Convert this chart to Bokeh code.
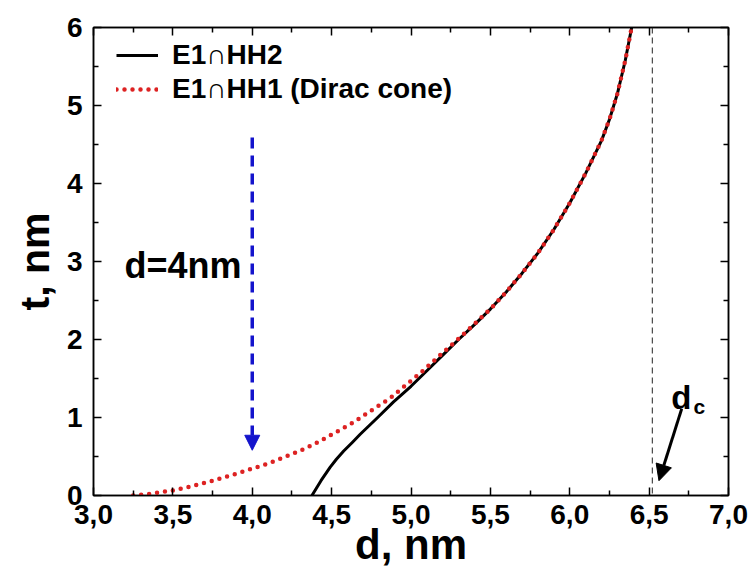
from bokeh.plotting import figure
from bokeh.models import (Legend, LegendItem, Span, Arrow, NormalHead, Label,
                          LinearAxis, FixedTicker, Range1d)
from bokeh.embed import file_html
from bokeh.resources import INLINE

# ---- data ----
d_hh2 = [4.376, 4.433, 4.49, 4.53, 4.576, 4.63, 4.68, 4.79, 4.89, 5.00, 5.10, 5.20, 5.30,
         5.40, 5.50, 5.60, 5.70, 5.80, 5.90, 6.00, 6.10, 6.20, 6.25, 6.30, 6.35, 6.39]
t_hh2 = [0.00, 0.19, 0.36, 0.465, 0.57, 0.68, 0.785, 1.00, 1.20, 1.40, 1.60, 1.80, 2.00,
         2.19, 2.39, 2.61, 2.85, 3.11, 3.41, 3.75, 4.13, 4.55, 4.82, 5.15, 5.58, 6.00]

d_dirac = [3.25, 3.35, 3.50, 3.60, 3.75, 3.90, 4.00, 4.10, 4.25, 4.33, 4.40, 4.50, 4.64,
           4.75, 4.87, 5.00, 5.07, 5.20, 5.30, 5.40, 5.50, 5.60, 5.70, 5.80, 5.90, 6.00,
           6.10, 6.20, 6.25, 6.30, 6.35, 6.39]
t_dirac = [0.00, 0.02, 0.065, 0.11, 0.19, 0.28, 0.345, 0.41, 0.53, 0.60, 0.67, 0.78, 0.94,
           1.09, 1.25, 1.47, 1.59, 1.83, 2.01, 2.20, 2.39, 2.61, 2.85, 3.11, 3.41, 3.75,
           4.13, 4.55, 4.82, 5.15, 5.58, 6.00]

series_labels = ["E1\u2229HH2", "E1\u2229HH1 (Dirac cone)"]
x_title = "d, nm"
y_title = "t, nm"

x_ticks = [3.0, 3.5, 4.0, 4.5, 5.0, 5.5, 6.0, 6.5, 7.0]
x_tick_labels = ["3,0", "3,5", "4,0", "4,5", "5,0", "5,5", "6,0", "6,5", "7,0"]
x_minor = [3.25, 3.75, 4.25, 4.75, 5.25, 5.75, 6.25, 6.75]
y_ticks = [0, 1, 2, 3, 4, 5, 6]
y_tick_labels = ["0", "1", "2", "3", "4", "5", "6"]
y_minor = [0.5, 1.5, 2.5, 3.5, 4.5, 5.5]

d_critical = 6.52
arrow_d4 = dict(x=4.0, y_start=4.59, y_end=0.58)
label_d4 = dict(x=3.195, y=2.95, text="d=4nm")
arrow_dc = dict(x_start=6.705, y_start=1.11, x_end=6.562, y_end=0.19)
label_dc = dict(x=6.64, y=1.256, text="d")
label_dc_sub = dict(x=6.78, y=1.14, text="c")

FONT = "Liberation Sans"

p = figure(width=751, height=573, x_range=Range1d(3, 7), y_range=Range1d(0, 6),
           output_backend="svg", toolbar_location=None,
           min_border_left=93, min_border_right=23, min_border_top=27, min_border_bottom=78)
p.xgrid.visible = False
p.ygrid.visible = False
p.outline_line_color = "black"
p.outline_line_width = 1.5
p.background_fill_color = "white"
p.border_fill_color = "white"


def style_axis(ax, ticks, minor, labels, show_labels=True):
    ax.ticker = FixedTicker(ticks=ticks, minor_ticks=minor)
    if show_labels:
        ax.major_label_overrides = {t: l for t, l in zip(ticks, labels)}
    else:
        ax.major_label_overrides = {t: "" for t in ticks}
        ax.major_label_standoff = 0
    ax.axis_line_color = "black"
    ax.axis_line_width = 1.5
    ax.major_tick_in = 8
    ax.major_tick_out = 0
    ax.minor_tick_in = 5
    ax.minor_tick_out = 0
    ax.major_tick_line_width = 1.5
    ax.minor_tick_line_width = 1.5
    ax.major_tick_line_color = "black"
    ax.minor_tick_line_color = "black"
    ax.major_label_text_font = FONT
    ax.major_label_text_font_style = "bold"
    ax.major_label_text_color = "black"
    ax.major_label_text_font_size = "28px"


xa = p.xaxis[0]
ya = p.yaxis[0]
style_axis(xa, x_ticks, x_minor, x_tick_labels)
style_axis(ya, y_ticks, y_minor, y_tick_labels)
xa.major_label_standoff = 9
ya.major_label_standoff = 11
xa.axis_label = x_title
ya.axis_label = y_title
xa.axis_label_text_font_size = "42px"
ya.axis_label_text_font_size = "41px"
for ax in (xa, ya):
    ax.axis_label_text_font = FONT
    ax.axis_label_text_font_style = "bold"
    ax.axis_label_text_color = "black"
xa.axis_label_standoff = -6
ya.axis_label_standoff = 6

top = LinearAxis()
style_axis(top, x_ticks, x_minor, x_tick_labels, show_labels=False)
p.add_layout(top, "above")
right = LinearAxis()
style_axis(right, y_ticks, y_minor, y_tick_labels, show_labels=False)
p.add_layout(right, "right")

# critical thickness line
p.add_layout(Span(location=d_critical, dimension="height", line_color="#222222",
                  line_width=1, line_dash="6 4"))

r_black = p.line(d_hh2, t_hh2, line_color="black", line_width=3, line_join="round")
r_red = p.line(d_dirac, t_dirac, line_color="#dd2222", line_width=4.5,
               line_dash="0 8", line_cap="round")

# blue arrow d=4nm
blue = "#1414cc"
p.add_layout(Arrow(end=NormalHead(size=15, fill_color=blue, line_color=blue),
                   x_start=arrow_d4["x"], y_start=arrow_d4["y_start"],
                   x_end=arrow_d4["x"], y_end=arrow_d4["y_end"],
                   line_color=blue, line_width=3.5, line_dash="11 7"))
p.add_layout(Label(x=label_d4["x"], y=label_d4["y"], text=label_d4["text"],
                   text_font=FONT, text_font_style="bold", text_font_size="36px",
                   text_color="black", text_baseline="alphabetic"))

# d_c arrow and label
p.add_layout(Arrow(end=NormalHead(size=16, fill_color="black", line_color="black"),
                   x_start=arrow_dc["x_start"], y_start=arrow_dc["y_start"],
                   x_end=arrow_dc["x_end"], y_end=arrow_dc["y_end"],
                   line_color="black", line_width=3))
p.add_layout(Label(x=label_dc["x"], y=label_dc["y"], text=label_dc["text"], text_font=FONT,
                   text_font_style="bold", text_font_size="33px", text_color="black",
                   text_baseline="alphabetic"))
p.add_layout(Label(x=label_dc_sub["x"], y=label_dc_sub["y"], text=label_dc_sub["text"],
                   text_font=FONT, text_font_style="bold", text_font_size="21px",
                   text_color="black", text_baseline="alphabetic"))

legend = Legend(items=[LegendItem(label=series_labels[0], renderers=[r_black]),
                       LegendItem(label=series_labels[1], renderers=[r_red])],
                location=(23, 390), border_line_color=None, background_fill_alpha=0,
                label_text_font=FONT, label_text_font_style="bold",
                label_text_font_size="28px", label_text_color="black",
                glyph_width=42, glyph_height=20,
                label_standoff=14, spacing=2, padding=10, margin=0)
p.add_layout(legend)

open("out.html", "w").write(file_html(p, INLINE))
